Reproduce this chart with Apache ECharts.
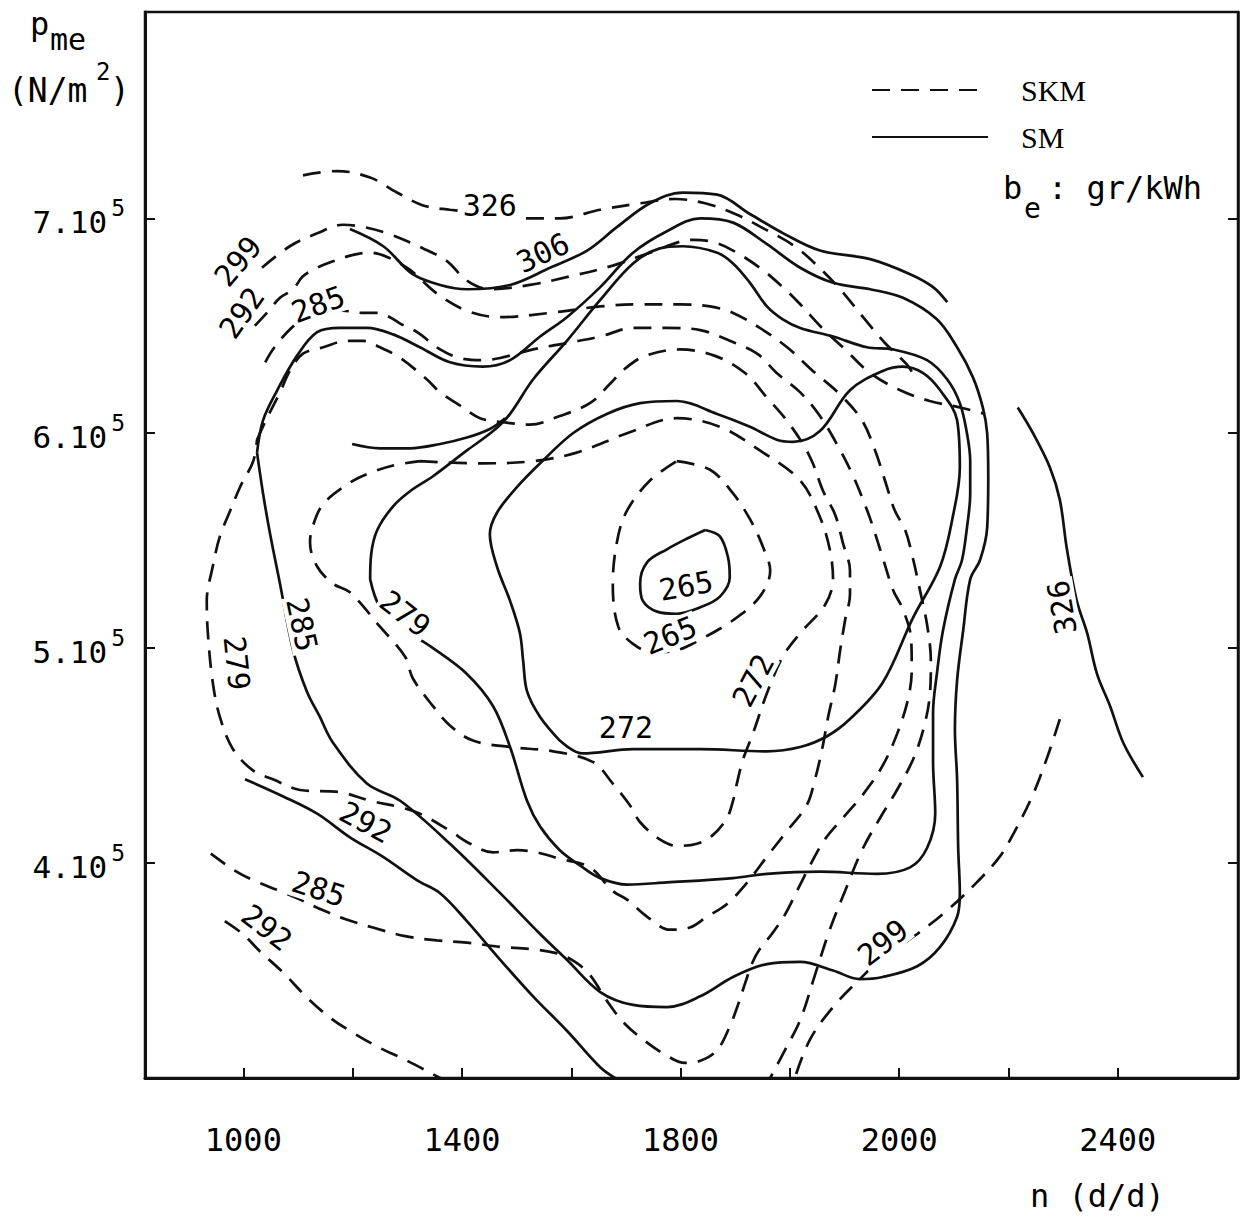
<!DOCTYPE html>
<html><head><meta charset="utf-8">
<script src="https://cdn.jsdelivr.net/npm/echarts@6/dist/echarts.min.js"></script>
<style>html,body{margin:0;padding:0;background:#fff;} #c{width:1257px;height:1221px;}</style>
</head><body><div id="c"></div><script>
// ---- axes ----
const xTickValues = [1000,1200,1400,1600,1800,2000,2200,2400,2600];
const xLabelValues = [1000,1400,1800,2200,2600];
const xLabelTexts = ['1000','1400','1800','2000','2400'];
const yTickValues = [4,5,6,7];
const yLabelTexts = ['4.10','5.10','6.10','7.10'];

// ---- SM (solid) contours: [n (d/d), pme (x1e5 N/m2)] ----
const sm306 = [[1195,6.95],[1256,6.87],[1310,6.74],[1360,6.69],[1409,6.67],[1488,6.69],[1561,6.77],[1629,6.85],[1684,6.96],[1744,7.07],[1804,7.12],[1867,7.11],[1927,7.02],[1988,6.93],[2055,6.85],[2147,6.81],[2220,6.74],[2262,6.68],[2288,6.61]];
const sm285 = [[1025,5.91],[1036,6.06],[1062,6.20],[1098,6.36],[1135,6.47],[1177,6.49],[1226,6.49],[1274,6.46],[1323,6.40],[1378,6.33],[1438,6.31],[1488,6.34],[1543,6.45],[1592,6.54],[1653,6.68],[1713,6.84],[1775,6.94],[1836,7.00],[1896,6.98],[1958,6.88],[2019,6.77],[2079,6.70],[2147,6.67],[2207,6.63],[2269,6.53],[2306,6.40],[2335,6.26],[2353,6.12],[2361,6.00],[2363,5.80],[2361,5.56],[2348,5.41],[2330,5.32],[2317,5.08],[2306,4.85],[2302,4.62],[2306,4.39],[2308,4.07],[2311,3.86],[2306,3.75],[2275,3.61],[2233,3.52],[2170,3.47],[2128,3.46],[2079,3.50],[2019,3.54],[1958,3.53],[1896,3.47],[1836,3.38],[1775,3.33],[1713,3.34],[1653,3.40],[1592,3.55],[1543,3.67],[1470,3.86],[1378,4.09],[1287,4.29],[1226,4.37],[1164,4.56],[1140,4.68],[1116,4.80],[1091,4.99],[1067,5.30],[1049,5.53],[1036,5.72],[1025,5.91]];
const sm279 = [[1232,5.32],[1234,5.44],[1245,5.55],[1274,5.66],[1305,5.73],[1347,5.80],[1409,5.92],[1457,6.01],[1488,6.09],[1530,6.25],[1592,6.43],[1653,6.62],[1713,6.79],[1762,6.86],[1804,6.87],[1867,6.84],[1896,6.79],[1927,6.70],[1958,6.59],[1987,6.53],[2019,6.49],[2079,6.45],[2141,6.40],[2189,6.39],[2251,6.34],[2288,6.25],[2311,6.14],[2324,6.00],[2330,5.87],[2330,5.72],[2324,5.56],[2315,5.41],[2302,5.32],[2280,5.08],[2269,4.88],[2262,4.70],[2262,4.47],[2266,4.23],[2251,4.07],[2220,3.98],[2159,3.95],[2055,3.96],[1958,3.95],[1896,3.93],[1775,3.91],[1702,3.90],[1653,3.93],[1621,3.98],[1579,4.06],[1543,4.17],[1519,4.29],[1488,4.54],[1457,4.73],[1409,4.88],[1347,5.00],[1287,5.10],[1250,5.19],[1232,5.32]];
const sm272 = [[1579,4.57],[1621,4.51],[1713,4.53],[1836,4.53],[1958,4.52],[2019,4.54],[2068,4.59],[2110,4.67],[2170,4.84],[2225,5.14],[2275,5.38],[2298,5.61],[2311,5.84],[2306,6.06],[2275,6.20],[2244,6.28],[2207,6.31],[2170,6.29],[2110,6.20],[2055,6.01],[2006,5.96],[1976,5.97],[1927,6.03],[1867,6.09],[1793,6.15],[1726,6.14],[1665,6.09],[1603,6.00],[1543,5.86],[1501,5.75],[1464,5.63],[1451,5.53],[1464,5.38],[1488,5.22],[1506,5.07],[1512,4.94],[1519,4.80],[1543,4.68],[1579,4.57]];
const sm265 = [[1845,5.55],[1872,5.52],[1887,5.42],[1890,5.33],[1872,5.24],[1836,5.19],[1793,5.16],[1757,5.17],[1731,5.22],[1726,5.30],[1739,5.40],[1775,5.46],[1812,5.51],[1845,5.55]];
const sm292 = [[1003,4.39],[1073,4.31],[1135,4.23],[1195,4.12],[1255,4.03],[1318,3.92],[1360,3.86],[1409,3.73],[1470,3.55],[1530,3.38],[1592,3.22],[1653,3.05],[1680,3.00]];
const smMid = [[1199,5.95],[1250,5.93],[1305,5.93],[1360,5.95],[1409,5.98],[1451,6.02],[1479,6.07]];
const sm326 = [[2417,6.12],[2445,6.00],[2476,5.84],[2494,5.69],[2507,5.46],[2525,5.22],[2544,5.07],[2562,4.88],[2586,4.73],[2610,4.56],[2646,4.40]];

// ---- SKM (dashed) contours ----
const skm326 = [[1109,7.20],[1171,7.22],[1232,7.19],[1281,7.12],[1329,7.06],[1378,7.04],[1451,7.02],[1519,7.00],[1579,7.00],[1653,7.04],[1726,7.07],[1790,7.09],[1845,7.07],[1900,7.02],[1954,6.95],[2009,6.87],[2050,6.78],[2092,6.67],[2134,6.54],[2174,6.42],[2214,6.32],[2229,6.26]];
const skm299 = [[1034,6.77],[1085,6.87],[1135,6.93],[1182,6.97],[1219,6.96],[1263,6.93],[1329,6.86],[1373,6.80],[1409,6.71],[1451,6.67],[1524,6.69],[1598,6.73],[1676,6.78],[1744,6.84],[1823,6.90],[1859,6.89],[1896,6.85],[1945,6.77],[1987,6.68],[2019,6.60],[2055,6.50],[2101,6.39],[2147,6.28],[2202,6.20],[2256,6.15],[2311,6.12],[2357,6.09]];
const skm299b = [[2494,4.67],[2472,4.50],[2445,4.32],[2412,4.15],[2384,4.03],[2342,3.91],[2288,3.78],[2233,3.67],[2170,3.56],[2128,3.46],[2079,3.33],[2037,3.18],[2009,3.00]];
const skm292 = [[1021,6.50],[1043,6.56],[1067,6.63],[1091,6.67],[1109,6.73],[1135,6.77],[1164,6.80],[1201,6.83],[1232,6.84],[1263,6.82],[1305,6.76],[1354,6.65],[1409,6.57],[1470,6.54],[1561,6.56],[1653,6.59],[1726,6.60],[1799,6.60],[1854,6.59],[1896,6.56],[1945,6.49],[1995,6.40],[2042,6.29],[2092,6.18],[2132,6.06],[2156,5.92],[2174,5.78],[2192,5.64],[2211,5.55],[2225,5.42],[2238,5.27],[2251,5.11],[2258,4.94],[2256,4.78],[2244,4.62],[2225,4.48],[2196,4.34],[2165,4.21],[2132,4.06],[2101,3.87],[2073,3.69],[2046,3.48],[2019,3.27],[1991,3.13],[1964,3.00]];
const skm292b = [[966,3.73],[999,3.67],[1030,3.59],[1073,3.49],[1118,3.37],[1159,3.28],[1201,3.21],[1250,3.14],[1300,3.08],[1360,3.00]];
const skm285 = [[1040,6.33],[1054,6.39],[1080,6.47],[1098,6.51],[1137,6.56],[1182,6.57],[1219,6.56],[1245,6.56],[1268,6.54],[1287,6.51],[1318,6.47],[1360,6.39],[1396,6.35],[1438,6.34],[1470,6.35],[1530,6.39],[1592,6.42],[1653,6.45],[1713,6.49],[1775,6.49],[1836,6.48],[1890,6.43],[1940,6.37],[1976,6.28],[2019,6.19],[2055,6.08],[2088,5.94],[2116,5.80],[2137,5.67],[2150,5.58],[2170,5.42],[2189,5.27],[2207,5.18],[2222,5.04],[2223,4.90],[2216,4.76],[2196,4.60],[2169,4.45],[2134,4.32],[2097,4.21],[2064,4.11],[2037,3.99],[2013,3.87],[1991,3.76],[1967,3.67],[1945,3.60],[1932,3.54],[1918,3.44],[1905,3.34],[1890,3.24],[1867,3.13],[1836,3.08],[1808,3.07],[1771,3.11],[1731,3.18],[1695,3.26],[1665,3.36],[1634,3.48],[1607,3.54],[1574,3.58],[1524,3.60],[1470,3.61],[1409,3.63],[1354,3.64],[1296,3.66],[1237,3.70],[1186,3.74],[1146,3.78],[1104,3.83],[1067,3.87],[1018,3.92],[981,3.97],[948,4.03],[926,4.07]];
const skm279 = [[1025,5.97],[1043,6.07],[1067,6.19],[1085,6.29],[1109,6.37],[1146,6.40],[1190,6.43],[1219,6.43],[1250,6.40],[1287,6.35],[1336,6.25],[1360,6.19],[1396,6.13],[1433,6.07],[1479,6.05],[1524,6.04],[1579,6.08],[1634,6.14],[1671,6.23],[1698,6.30],[1735,6.36],[1799,6.39],[1863,6.36],[1918,6.28],[1960,6.16],[1991,6.07],[2024,5.95],[2042,5.86],[2061,5.73],[2083,5.62],[2097,5.49],[2110,5.36],[2110,5.25],[2101,5.13],[2092,4.99],[2083,4.83],[2070,4.68],[2059,4.53],[2046,4.39],[2031,4.27],[1995,4.15],[1958,4.03],[1922,3.91],[1885,3.81],[1848,3.75],[1817,3.70],[1781,3.69],[1739,3.75],[1702,3.83],[1676,3.87],[1634,3.98],[1579,4.02],[1537,4.05],[1501,4.06],[1457,4.05],[1415,4.09],[1378,4.15],[1323,4.23],[1287,4.26],[1232,4.29],[1177,4.33],[1104,4.34],[1054,4.39],[1018,4.43],[981,4.53],[957,4.68],[944,4.84],[935,5.07],[933,5.22],[944,5.38],[957,5.52],[976,5.64],[994,5.75],[1018,5.87],[1025,5.97]];
const skm272 = [[1323,5.87],[1438,5.86],[1530,5.87],[1610,5.91],[1702,6.00],[1793,6.07],[1872,6.03],[1945,5.92],[2019,5.78],[2055,5.61],[2073,5.46],[2079,5.32],[2064,5.20],[2019,5.07],[1987,4.96],[1958,4.79],[1932,4.60],[1914,4.48],[1903,4.37],[1896,4.29],[1885,4.21],[1859,4.13],[1830,4.09],[1793,4.08],[1762,4.11],[1726,4.19],[1707,4.27],[1676,4.37],[1640,4.47],[1567,4.52],[1488,4.54],[1420,4.57],[1378,4.64],[1347,4.73],[1310,4.86],[1296,4.96],[1250,5.10],[1195,5.26],[1164,5.30],[1135,5.38],[1122,5.49],[1126,5.56],[1146,5.67],[1195,5.77],[1226,5.81],[1274,5.85],[1323,5.87]];
const skm265 = [[1793,5.87],[1854,5.83],[1896,5.72],[1927,5.60],[1951,5.47],[1964,5.36],[1945,5.24],[1896,5.13],[1836,5.04],[1793,4.99],[1750,4.98],[1713,5.02],[1686,5.10],[1676,5.30],[1684,5.50],[1702,5.64],[1744,5.78],[1793,5.87]];

// ---- contour value labels: [n, pme, text] and their angles ----
const contourLabels = [
  [1548,6.84,'306'],[1107,5.11,'285'],[1296,5.16,'279'],[1700,4.63,'272'],[1810,5.29,'265'],[1224,4.19,'292'],[2498,5.19,'326'],
  [1451,7.06,'326'],[990,6.80,'299'],[997,6.56,'292'],[1137,6.60,'285'],[988,4.93,'279'],[1933,4.85,'272'],[1781,5.06,'265'],
  [2170,3.63,'299'],[1043,3.70,'292'],[1138,3.88,'285']
];
const labelAngles = [25,-78,-38,0,10,-28,100, 0,50,55,20,-84,62,22, 38,-38,-18];

const ink = '#000';
const mono = '"DejaVu Sans Mono", monospace';
const dash = [18, 11];

function curve(name, data) {
  return {
    type: 'line', name: name, data: data, smooth: 0.35, symbol: 'none', showSymbol: false,
    silent: true, animation: false, z: 2,
    lineStyle: { color: '#111', width: 2.7, type: name === 'SKM' ? dash : 'solid', cap: 'butt' },
    itemStyle: { color: '#111' }
  };
}

const smCurves = [sm306, sm285, sm279, sm272, sm265, sm292, smMid, sm326];
const skmCurves = [skm326, skm299, skm299b, skm292, skm292b, skm285, skm279, skm272, skm265];

const series = [];
skmCurves.forEach(d => series.push(curve('SKM', d)));
smCurves.forEach(d => series.push(curve('SM', d)));
series.push({
  type: 'scatter', name: 'labels', symbolSize: 1, silent: true, animation: false, z: 5,
  itemStyle: { color: '#fff', opacity: 0 },
  data: contourLabels.map((p, i) => ({
    value: [p[0], p[1]],
    label: { formatter: p[2], rotate: labelAngles[i] }
  })),
  label: {
    show: true, position: 'inside', color: ink, fontFamily: mono, fontSize: 30,
    textBorderWidth: 0, textBorderColor: 'transparent', opacity: 1,
    backgroundColor: '#fff', padding: [0, 2]
  }
});

const chart = echarts.init(document.getElementById('c'), null, { renderer: 'svg' });
chart.setOption({
  backgroundColor: '#fff',
  animation: false,
  grid: { left: 145, top: 12, width: 1093, height: 1066, show: true, borderColor: '#111', borderWidth: 2.5, backgroundColor: 'transparent' },
  legend: {
    data: ['SKM', 'SM'], orient: 'vertical', left: 866, top: 70, itemWidth: 116, itemHeight: 30, itemGap: 17,
    selectedMode: false,
    itemStyle: { opacity: 0 },
    textStyle: { fontFamily: '"Liberation Serif", serif', fontSize: 30, color: ink, padding: [0, 0, 0, 28] }
  },
  xAxis: {
    type: 'value', min: 820, max: 2820,
    axisLine: { show: true, lineStyle: { color: '#111', width: 3 } },
    axisTick: { show: true, inside: true, length: 10, customValues: xTickValues, lineStyle: { color: '#111', width: 2 } },
    axisLabel: {
      show: true, margin: 46, customValues: xLabelValues, color: ink, fontFamily: mono, fontSize: 32,
      formatter: v => { const i = xLabelValues.indexOf(v); return i >= 0 ? xLabelTexts[i] : ''; }
    },
    splitLine: { show: false }
  },
  yAxis: [{
    type: 'value', min: 3, max: 7.96,
    axisLine: { show: true, lineStyle: { color: '#111', width: 3 } },
    axisTick: { show: true, inside: true, length: 10, customValues: yTickValues, lineStyle: { color: '#111', width: 2 } },
    axisLabel: {
      show: true, margin: 20, customValues: yTickValues,
      formatter: v => { const i = yTickValues.indexOf(v); return i >= 0 ? '{a|' + yLabelTexts[i] + '}{s|5}' : ''; },
      rich: {
        a: { fontFamily: mono, fontSize: 31, color: ink, lineHeight: 44, padding: [8, 0, 0, 0] },
        s: { fontFamily: mono, fontSize: 23, color: ink, verticalAlign: 'top', lineHeight: 40, padding: [0, 0, 0, 4] }
      }
    },
    splitLine: { show: false }
  }, {
    type: 'value', min: 3, max: 7.96, position: 'right',
    axisLine: { show: true, lineStyle: { color: '#111', width: 2.5 } },
    axisTick: { show: true, inside: true, length: 10, customValues: yTickValues, lineStyle: { color: '#111', width: 2 } },
    axisLabel: { show: false },
    splitLine: { show: false }
  }],
  graphic: [
    { type: 'text', left: 30, top: 8, style: { text: 'p', font: '32px ' + mono, fill: ink } },
    { type: 'text', left: 50, top: 24, style: { text: 'me', font: '30px ' + mono, fill: ink } },
    { type: 'text', left: 8, top: 74, style: { text: '(N/m', font: '33px ' + mono, fill: ink } },
    { type: 'text', left: 96, top: 60, style: { text: '2', font: '24px ' + mono, fill: ink } },
    { type: 'text', left: 110, top: 74, style: { text: ')', font: '33px ' + mono, fill: ink } },
    { type: 'text', left: 1003, top: 172, style: { text: 'b', font: '32px ' + mono, fill: ink } },
    { type: 'text', left: 1024, top: 194, style: { text: 'e', font: '28px ' + mono, fill: ink } },
    { type: 'text', left: 1048, top: 172, style: { text: ': gr/kWh', font: '32px ' + mono, fill: ink } },
    { type: 'text', left: 1030, top: 1180, style: { text: 'n (d/d)', font: '32px ' + mono, fill: ink } }
  ],
  series: series
});
</script></body></html>
